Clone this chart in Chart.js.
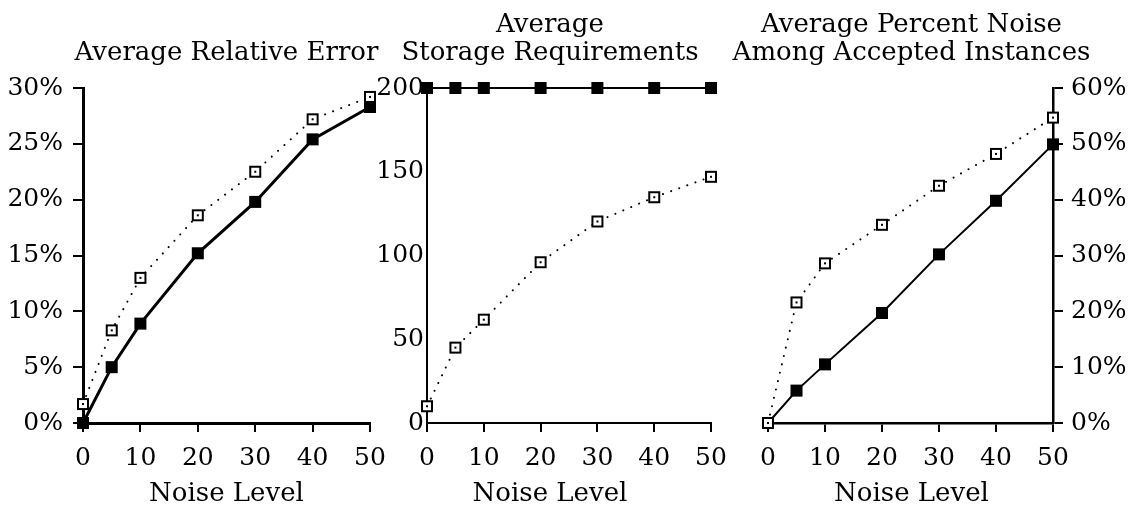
<!DOCTYPE html>
<html>
<head>
<meta charset="utf-8">
<script src="https://cdn.jsdelivr.net/npm/chart.js@4.4.1/dist/chart.umd.min.js"></script>
<style>
html, body { margin:0; padding:0; background:#fff; }
#wrap { position:relative; width:1136px; height:510px; overflow:hidden; }
canvas { position:absolute; top:0; }
#errorChart { left:0; }
#storageChart { left:340px; }
#noiseChart { left:690px; }
</style>
</head>
<body>
<div id="wrap">
  <canvas id="errorChart" width="420" height="510"></canvas>
  <canvas id="storageChart" width="400" height="510"></canvas>
  <canvas id="noiseChart" width="446" height="510"></canvas>
</div>

<script>
// ===============================
// DATA
// ===============================

const noiseLevels = [0, 5, 10, 20, 30, 40, 50];
const noiseTicks = [0, 10, 20, 30, 40, 50];

// Average Relative Error (%)
const errorFilled = [0, 5.0, 8.9, 15.2, 19.8, 25.4, 28.3];
const errorOpen = [1.7, 8.3, 13.0, 18.6, 22.5, 27.2, 29.2];
const errorTicks = [0, 5, 10, 15, 20, 25, 30];

// Average Storage Requirements
const storageFilled = [200, 200, 200, 200, 200, 200, 200];
const storageOpen = [10, 45, 61.7, 96, 120.3, 134.8, 147];
const storageTicks = [0, 50, 100, 150, 200];

// Average Percent Noise Among Accepted Instances (%)
const noiseFilled = [0, 5.8, 10.5, 19.7, 30.2, 39.8, 49.9];
const noiseOpen = [0, 21.6, 28.6, 35.5, 42.5, 48.2, 54.7];
const noisePctTicks = [0, 10, 20, 30, 40, 50, 60];

const xTitle = "Noise Level";


// ===============================
// STYLE HELPERS
// ===============================

const FONT = "'DejaVu Serif', serif";

function openSquare() {
  const c = document.createElement("canvas");
  c.width = 14;
  c.height = 14;
  const g = c.getContext("2d");
  g.fillStyle = "#fff";
  g.fillRect(1, 1, 12, 12);
  g.strokeStyle = "#000";
  g.lineWidth = 2;
  g.strokeRect(2, 2, 10, 10);
  g.fillStyle = "#000";
  g.fillRect(6, 6, 2, 2);
  return c;
}
const openMarker = openSquare();

function points(values) {
  return values.map((v, i) => ({ x: noiseLevels[i], y: v }));
}

// titles drawn around the chart area
const panelText = {
  id: "panelText",
  afterDraw(chart, args, opts) {
    const ctx = chart.ctx;
    const area = chart.chartArea;
    const cx = (area.left + area.right) / 2 + (opts.shift || 0);
    ctx.save();
    ctx.fillStyle = "#000";
    ctx.font = "26px " + FONT;
    ctx.textAlign = "center";
    ctx.textBaseline = "alphabetic";
    const lines = opts.title;
    lines.forEach((line, i) => {
      ctx.fillText(line, cx, 60 - (lines.length - 1 - i) * 28);
    });
    ctx.fillText(opts.xTitle, cx, 501);
    ctx.restore();
  }
};


// ===============================
// BUILD ONE PANEL
// ===============================

function makePanel(id, p) {

const tickFont = { family: FONT, size: 25 };

new Chart(document.getElementById(id), {
type: "line",
data: {
datasets: [
{
  data: points(p.open),
  borderColor: "#000",
  borderWidth: 2,
  borderDash: [0.1, 8.5],
  borderCapStyle: "round",
  pointStyle: openMarker,
  pointRadius: 7,
  clip: false,
  tension: 0
},
{
  data: points(p.filled),
  borderColor: "#000",
  borderWidth: p.lineWidth,
  backgroundColor: "#000",
  pointStyle: "rect",
  pointRadius: 8.5,
  pointBorderWidth: 0,
  pointBackgroundColor: "#000",
  clip: false,
  tension: 0
}
]
},
plugins: [panelText],
options: {
responsive: false,
animation: false,
events: [],
layout: { padding: p.padding },
plugins: {
  legend: { display: false },
  tooltip: { enabled: false },
  panelText: { title: p.title, xTitle: xTitle, shift: p.shift }
},
scales: {
x: {
  type: "linear",
  min: 0,
  max: 50,
  afterBuildTicks: s => { s.ticks = noiseTicks.map(v => ({ value: v })); },
  afterFit: s => { s.height = 87; },
  ticks: { font: tickFont, color: "#000", padding: 11, autoSkip: false, maxRotation: 0 },
  grid: { drawOnChartArea: false, tickLength: 9, color: "#000", lineWidth: 2 },
  border: { color: "#000", width: p.axisWidth }
},
y: {
  type: "linear",
  position: p.yPosition,
  min: p.yMin,
  max: p.yMax,
  afterBuildTicks: s => { s.ticks = p.yTicks.map(v => ({ value: v })); },
  afterFit: s => { s.width = p.yWidth; },
  ticks: {
    font: tickFont,
    color: "#000",
    padding: p.yPad,
    callback: v => v + p.suffix
  },
  grid: {
    drawOnChartArea: false,
    drawTicks: p.yTickMarks,
    tickLength: 10,
    color: "#000",
    lineWidth: 2
  },
  border: { color: "#000", width: p.axisWidth }
}
}
}
});

}


// ===============================
// PANELS
// ===============================

makePanel("errorChart", {
  title: ["Average Relative Error"],
  filled: errorFilled,
  open: errorOpen,
  yTicks: errorTicks,
  yMin: 0, yMax: 30, suffix: "%",
  yPosition: "left", yWidth: 83, yPad: 10, yTickMarks: true,
  padding: { top: 88, left: 0, right: 50, bottom: 0 },
  lineWidth: 3, axisWidth: 3, shift: 0
});

makePanel("storageChart", {
  title: ["Average", "Storage Requirements"],
  filled: storageFilled,
  open: storageOpen,
  yTicks: storageTicks,
  yMin: 0, yMax: 200, suffix: "",
  yPosition: "left", yWidth: 87, yPad: 3, yTickMarks: false,
  padding: { top: 88, left: 0, right: 29, bottom: 0 },
  lineWidth: 2, axisWidth: 2, shift: -19
});

makePanel("noiseChart", {
  title: ["Average Percent Noise", "Among Accepted Instances"],
  filled: noiseFilled,
  open: noiseOpen,
  yTicks: noisePctTicks,
  yMin: 0, yMax: 60, suffix: "%",
  yPosition: "right", yWidth: 83, yPad: 8, yTickMarks: true,
  padding: { top: 88, left: 78, right: 0, bottom: 0 },
  lineWidth: 2, axisWidth: 2.5, shift: 1
});
</script>
</body>
</html>
